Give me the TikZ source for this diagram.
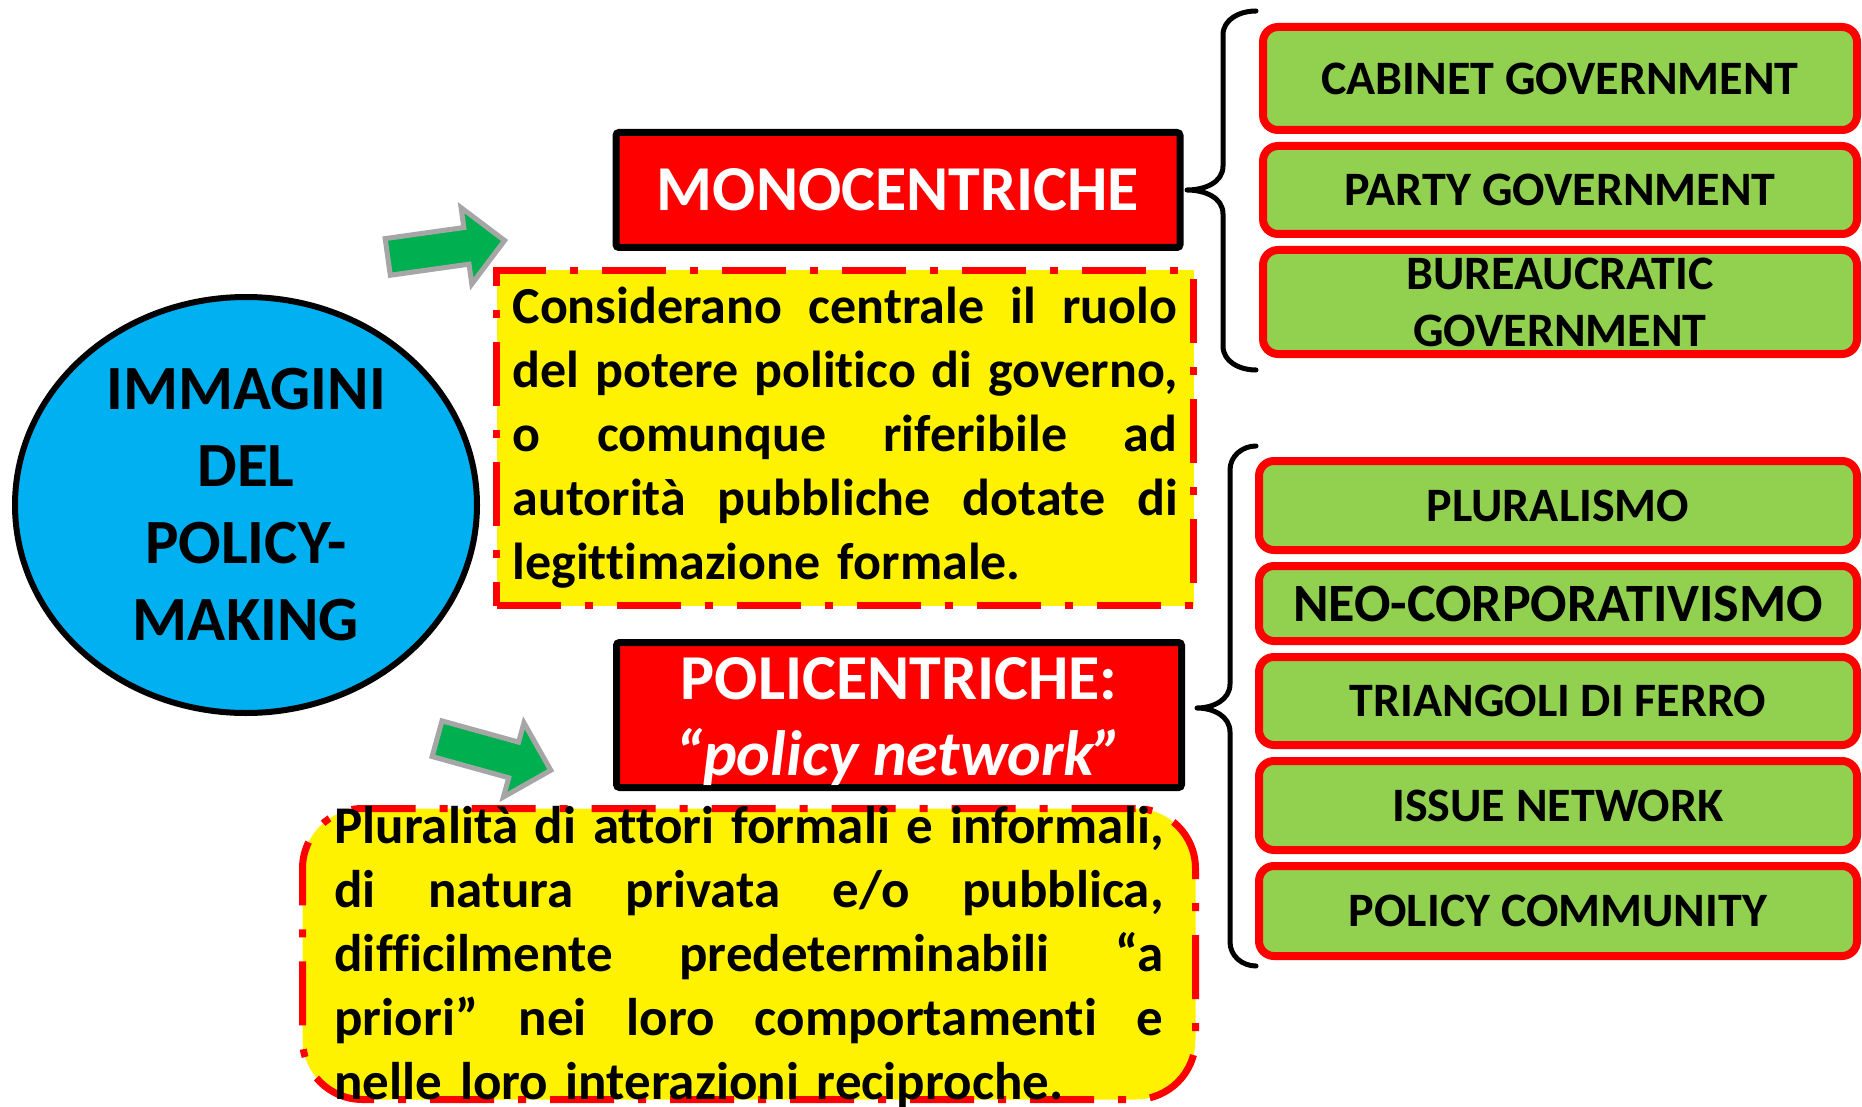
\documentclass[tikz,border=0pt]{standalone}
\usepackage{fontspec}
\setmainfont{Carlito}[Ligatures={NoCommon}]
\usepackage{tikz}
\usetikzlibrary{positioning, shapes.geometric, shapes.arrows}
\definecolor{ovalblue}{RGB}{0,176,240}
\definecolor{leafgreen}{RGB}{146,208,80}
\definecolor{arrowgreen}{RGB}{0,176,80}
\definecolor{arrowgray}{RGB}{166,166,166}
\newcommand{\jline}[2][665pt]{\makebox[#1][s]{\spaceskip=0.25em plus 1fil\relax #2}}
\tikzset{
  hub/.style={
    ellipse, draw=black, line width=6pt, fill=ovalblue, inner sep=0pt,
    minimum width=462pt, minimum height=416pt, align=center,
    font=\fontsize{63}{77}\selectfont\bfseries
  },
  family/.style={
    draw=black, line width=7pt, fill=red, rounded corners=3pt, inner sep=0pt,
    text=white, align=center, font=\fontsize{64}{76}\selectfont\bfseries
  },
  desc/.style={
    draw=red, line width=7pt, fill=yellow, inner ysep=0pt,
    dash pattern=on 64pt off 24pt on 8pt off 24pt
  },
  desc text/.style={align=left, inner sep=0pt},
  model/.style={
    draw=red, line width=8pt, fill=leafgreen, rounded corners=15pt, inner sep=0pt,
    minimum width=594pt, align=center, font=\fontsize{48}{57}\selectfont\bfseries
  },
  pointer/.style={
    single arrow, draw=arrowgray, line width=5pt, fill=arrowgreen,
    inner xsep=0pt, inner ysep=16pt, minimum height=118pt,
    single arrow head extend=20pt
  },
  bracepen/.style={draw=black, line width=5pt, line cap=round, line join=round},
}
\begin{document}
\begin{tikzpicture}[x=1pt, y=-1pt]
  \clip (0,0) rectangle (1862,1107);
  \fill[white] (0,0) rectangle (1862,1107);

  % central ellipse
  \node[hub] (immagini) at (246,505) {IMMAGINI\\DEL\\POLICY-\\MAKING};

  % the two families
  \node[family, minimum width=564pt, minimum height=115pt] (mono) at (898,190) {MONOCENTRICHE};
  \node[family, minimum width=565pt, minimum height=145pt] (poli) at (899,715)
    {\rule{0pt}{56pt}POLICENTRICHE:\\\textit{“policy network”}};

  % descriptions
  \node[desc, desc text, text width=665pt, inner xsep=16pt, minimum height=335pt,
        font=\fontsize{52}{64}\selectfont\bfseries] (monodesc) at (845,438) {%
    \jline{Considerano centrale il ruolo}\\
    \jline{del potere politico di governo,}\\
    \jline{o comunque riferibile ad}\\
    \jline{autorità pubbliche dotate di}\\
    legittimazione formale.};
  \node[desc, rounded corners=60pt, minimum width=893pt, minimum height=291pt] (polibox) at (749,954) {};
  \node[desc text, text width=829pt, font=\fontsize{53}{64}\selectfont\bfseries] (politext)
    at ([yshift=-3pt]polibox.center) {%
    \jline[829pt]{Pluralità di attori formali e informali,}\\
    \jline[829pt]{di natura privata e/o pubblica,}\\
    \jline[829pt]{difficilmente predeterminabili “a}\\
    \jline[829pt]{priori” nei loro comportamenti e}\\
    nelle loro interazioni reciproche.};

  % green arrows
  \node[pointer, rotate=8] (pointmono) at (437,250) {};
  \node[pointer, rotate=-15.5] (pointpoli) at (485,752) {};

  % monocentric models
  \node[model, minimum height=103pt] (cabinet) at (1560,78.5) {CABINET GOVERNMENT};
  \node[model, minimum height=88pt, below=8pt of cabinet] (party) {PARTY GOVERNMENT};
  \node[model, minimum height=104pt, below=8pt of party] (bureau) {BUREAUCRATIC\\GOVERNMENT};

  % policentric models
  \node[model, minimum width=598pt, minimum height=89pt] (plural) at (1558,505.5) {PLURALISMO};
  \node[model, minimum width=598pt, minimum height=75pt, below=8pt of plural,
        font=\fontsize{54}{60}\selectfont\bfseries] (neocorp) {NEO-CORPORATIVISMO};
  \node[model, minimum width=598pt, minimum height=88pt, below=8pt of neocorp] (triangoli) {TRIANGOLI DI FERRO};
  \node[model, minimum width=598pt, minimum height=89pt, below=8pt of triangoli] (issue) {ISSUE NETWORK};
  \node[model, minimum width=598pt, minimum height=90pt, below=8pt of issue] (community) {POLICY COMMUNITY};

  % braces
  \coordinate (monotip) at (1187,190);
  \coordinate (politip) at (1197,708);
  \draw[bracepen] (1256,11) to[out=180,in=90] (1223,35) -- (1223,166)
    to[out=-90,in=0] (monotip) to[out=0,in=90] (1223,214) -- (1223,346)
    to[out=-90,in=180] (1256,370);
  \draw[bracepen] (1256,446) to[out=180,in=90] (1230,470) -- (1230,684)
    to[out=-90,in=0] (politip) to[out=0,in=90] (1230,732) -- (1230,942)
    to[out=-90,in=180] (1256,966);
\end{tikzpicture}
\end{document}
